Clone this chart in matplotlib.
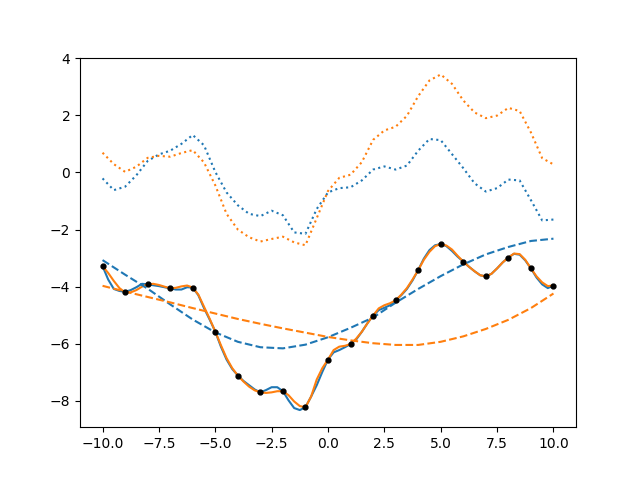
import numpy as np
import matplotlib
matplotlib.use('Agg')
import matplotlib.pyplot as plt

# Sample points (black dots)
x_pts = np.arange(-10, 11, 1)
y_pts = [-3.28, -4.20, -3.92, -4.06, -4.03, -5.57, -7.11, -7.70, -7.66, -8.22,
         -6.55, -6.01, -5.01, -4.48, -3.42, -2.51, -3.12, -3.64, -2.98, -3.36, -3.96]

# Interpolating curves read at quarter steps
x_quarter = np.arange(-10, 10.25, 0.25)
blue_solid = [-3.28, -3.75, -4.08, -4.15, -4.18, -4.12, -4.02, -3.90, -3.92, -3.95,
              -3.98, -4.02, -4.06, -4.10, -4.10, -4.02, -4.03, -4.30, -4.75, -5.15,
              -5.57, -6.10, -6.55, -6.88, -7.11, -7.30, -7.45, -7.60, -7.70, -7.62,
              -7.52, -7.52, -7.66, -7.98, -8.25, -8.32, -8.22, -7.85, -7.45, -6.98,
              -6.55, -6.30, -6.22, -6.12, -6.01, -5.85, -5.58, -5.28, -5.01, -4.82,
              -4.74, -4.65, -4.48, -4.30, -4.08, -3.78, -3.42, -3.02, -2.72, -2.55,
              -2.51, -2.58, -2.75, -2.95, -3.12, -3.30, -3.46, -3.60, -3.64, -3.55,
              -3.36, -3.15, -2.98, -2.85, -2.88, -3.08, -3.36, -3.68, -3.92, -4.05, -3.96]
orange_solid = [-3.28, -3.52, -3.80, -4.05, -4.20, -4.20, -4.12, -4.00, -3.92, -3.90,
                -3.94, -4.00, -4.06, -4.04, -3.99, -3.96, -4.03, -4.28, -4.70, -5.12,
                -5.57, -6.05, -6.50, -6.85, -7.11, -7.32, -7.50, -7.63, -7.70, -7.72,
                -7.70, -7.66, -7.66, -7.80, -8.02, -8.18, -8.22, -7.85, -7.25, -6.85,
                -6.55, -6.22, -6.10, -6.07, -6.01, -5.82, -5.58, -5.28, -5.01, -4.76,
                -4.65, -4.58, -4.48, -4.28, -4.05, -3.75, -3.42, -3.06, -2.78, -2.58,
                -2.51, -2.56, -2.70, -2.92, -3.12, -3.30, -3.46, -3.60, -3.64, -3.55,
                -3.36, -3.15, -2.98, -2.84, -2.86, -3.06, -3.36, -3.64, -3.85, -3.98, -3.96]

# Upper curves read at half steps
x_half = np.arange(-10, 10.5, 0.5)
blue_dotted = [-0.21, -0.62, -0.50, -0.10, 0.40, 0.63, 0.76, 1.00, 1.31, 0.95,
               0.02, -0.70, -1.15, -1.45, -1.53, -1.34, -1.50, -2.10, -2.15, -1.28,
               -0.70, -0.55, -0.52, -0.28, 0.10, 0.21, 0.10, 0.24, 0.76, 1.17,
               1.13, 0.64, 0.15, -0.38, -0.67, -0.55, -0.25, -0.28, -0.97, -1.68, -1.65]
orange_dotted = [0.69, 0.29, 0.02, 0.20, 0.51, 0.58, 0.55, 0.68, 0.78, 0.35,
                 -0.45, -1.45, -2.00, -2.27, -2.42, -2.33, -2.25, -2.45, -2.55, -1.60,
                 -0.65, -0.19, -0.08, 0.36, 1.14, 1.47, 1.60, 1.98, 2.67, 3.22,
                 3.43, 3.10, 2.52, 2.10, 1.90, 1.99, 2.26, 2.15, 1.40, 0.50, 0.28]

# Smooth trends read at integer steps
blue_dashed = [-3.07, -3.58, -4.07, -4.62, -5.15, -5.60, -5.93, -6.12, -6.16, -6.03,
               -5.77, -5.44, -5.08, -4.56, -4.08, -3.63, -3.22, -2.87, -2.61, -2.40, -2.32]
orange_dashed = [-3.97, -4.17, -4.36, -4.55, -4.75, -4.94, -5.13, -5.30, -5.46, -5.61,
                 -5.76, -5.88, -5.98, -6.04, -6.04, -5.93, -5.74, -5.48, -5.16, -4.75, -4.24]

plt.figure(figsize=(6.4, 4.8), dpi=100)
plt.plot(x_quarter, blue_solid, color='C0')
plt.plot(x_quarter, orange_solid, color='C1')
plt.plot(x_pts, blue_dashed, color='C0', linestyle='--')
plt.plot(x_pts, orange_dashed, color='C1', linestyle='--')
plt.plot(x_half, blue_dotted, color='C0', linestyle=':')
plt.plot(x_half, orange_dotted, color='C1', linestyle=':')
plt.plot(x_pts, y_pts, 'ko', markersize=3.5)

plt.xlim(-11, 11)
plt.ylim(-8.92, 4.02)
plt.savefig('out.png')
